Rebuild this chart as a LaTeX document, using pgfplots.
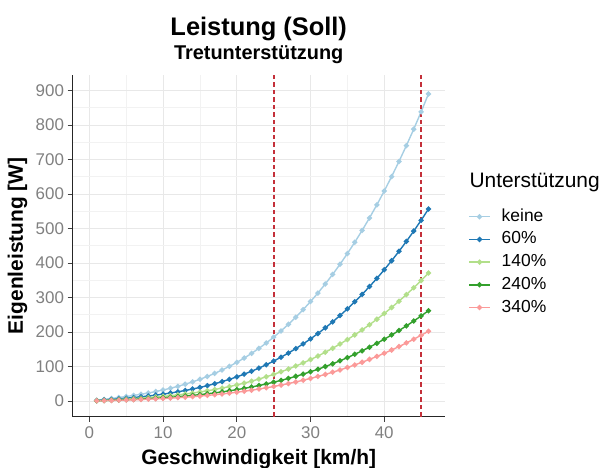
\documentclass[border=0pt]{standalone}
\usepackage{fontspec}
\setmainfont{Liberation Sans}
\usepackage{pgfplots}
\usepackage{pgfplotstable}
\pgfplotsset{compat=1.18}
\definecolor{cA}{HTML}{A6CEE3}
\definecolor{cB}{HTML}{1F78B4}
\definecolor{cC}{HTML}{B2DF8A}
\definecolor{cD}{HTML}{33A02C}
\definecolor{cE}{HTML}{FB9A99}
\definecolor{dashred}{RGB}{196,48,58}
\pgfplotstableread{
v k s60 s140 s240 s340
1 2.4 1.5 1.0 0.7 0.5
2 4.8 3.0 2.0 1.4 1.1
3 7.4 4.6 3.1 2.2 1.7
4 10.1 6.3 4.2 3.0 2.3
5 13.0 8.1 5.4 3.8 2.9
6 16.1 10.0 6.7 4.7 3.7
7 19.5 12.2 8.1 5.7 4.4
8 23.2 14.5 9.7 6.8 5.3
9 27.4 17.1 11.4 8.0 6.2
10 31.9 19.9 13.3 9.4 7.3
11 37.0 23.1 15.4 10.9 8.4
12 42.5 26.6 17.7 12.5 9.7
13 48.7 30.4 20.3 14.3 11.1
14 55.4 34.7 23.1 16.3 12.6
15 62.9 39.3 26.2 18.5 14.3
16 71.1 44.4 29.6 20.9 16.2
17 80.0 50.0 33.3 23.5 18.2
18 89.8 56.1 37.4 26.4 20.4
19 100.4 62.7 41.8 29.5 22.8
20 111.9 69.9 46.6 32.9 25.4
21 124.4 77.8 51.8 36.6 28.3
22 137.9 86.2 57.5 40.6 31.3
23 152.5 95.3 63.5 44.8 34.7
24 168.1 105.1 70.1 49.4 38.2
25 185.0 115.6 77.1 54.4 42.0
26 203.0 126.9 84.6 59.7 46.1
27 222.3 138.9 92.6 65.4 50.5
28 242.8 151.8 101.2 71.4 55.2
29 264.7 165.5 110.3 77.9 60.2
30 288.1 180.0 120.0 84.7 65.5
31 312.8 195.5 130.3 92.0 71.1
32 339.1 211.9 141.3 99.7 77.1
33 366.8 229.3 152.8 107.9 83.4
34 396.2 247.6 165.1 116.5 90.0
35 427.2 267.0 178.0 125.6 97.1
36 459.9 287.4 191.6 135.3 104.5
37 494.3 308.9 206.0 145.4 112.3
38 530.5 331.6 221.0 156.0 120.6
39 568.5 355.3 236.9 167.2 129.2
40 608.4 380.3 253.5 179.0 138.3
41 650.3 406.4 270.9 191.3 147.8
42 694.1 433.8 289.2 204.1 157.7
43 739.9 462.4 308.3 217.6 168.2
44 787.7 492.3 328.2 231.7 179.0
45 837.7 523.6 349.1 246.4 190.4
46 889.9 556.2 370.8 261.7 202.2
}\data

\begin{document}
\begin{tikzpicture}
\begin{axis}[
  at={(0,0)}, anchor=south west,
  width=372bp, height=342bp, scale only axis,
  xmin=-2.26, xmax=48.2, ymin=-45.5, ymax=945.5,
  axis lines*=left,
  axis line style={line width=1.1bp, black!85},
  xtick={0,10,20,30,40}, ytick={0,100,...,900},
  minor xtick={5,15,35}, minor ytick={50,150,...,850},
  grid=both,
  major grid style={black!9, line width=0.8bp},
  minor grid style={black!5, line width=0.5bp},
  tick align=outside, major tick length=5bp, minor tick length=0pt,
  tick style={black!75, line width=0.8bp},
  /pgf/number format/assume math mode=true,
  ticklabel style={font=\fontsize{17}{17}\selectfont, text=black!50},
  xticklabel style={inner sep=0pt, yshift=-4.5bp},
  yticklabel style={inner sep=0pt, xshift=-3.5bp},
  xlabel={Geschwindigkeit [km/h]},
  ylabel={Eigenleistung [W]},
  label style={font=\bfseries\fontsize{21}{21}\selectfont},
  xlabel style={at={(axis description cs:0.5,-0.1383)}, anchor=base},
  ylabel style={at={(axis description cs:-0.1336,0.5)}, anchor=base, rotate=0},
  every axis plot/.append style={line width=1.4bp, mark=*, mark size=1.9bp},
  legend style={at={(axis description cs:1.063,0.452)}, anchor=west,
    draw=none, fill=none, inner sep=0pt, row sep=7.7bp, column sep=0pt,
    nodes={inner sep=0pt, text height=12bp, text depth=3bp},
    font=\fontsize{17.5}{17.5}\selectfont},
  legend cell align=left,
  legend image code/.code={\draw[mark repeat=2, mark phase=2] plot coordinates {(0bp,0bp) (10.5bp,0bp) (21bp,0bp)}; \path (32bp,0bp);},
]
\addplot[color=cA, mark options={fill=cA}] table[x=v, y=k] {\data};
\addlegendentry{keine}
\addplot[color=cB, mark options={fill=cB}] table[x=v, y=s60] {\data};
\addlegendentry{60\%}
\addplot[color=cC, mark options={fill=cC}] table[x=v, y=s140] {\data};
\addlegendentry{140\%}
\addplot[color=cD, mark options={fill=cD}] table[x=v, y=s240] {\data};
\addlegendentry{240\%}
\addplot[color=cE, mark options={fill=cE}] table[x=v, y=s340] {\data};
\addlegendentry{340\%}
\addplot[forget plot, no marks, draw=dashred, line width=2bp, dash pattern=on 4.5bp off 3bp] coordinates {(25,-45.5) (25,945.5)};
\addplot[forget plot, no marks, draw=dashred, line width=2bp, dash pattern=on 4.5bp off 3bp] coordinates {(45,-45.5) (45,945.5)};
\end{axis}
\node[anchor=base west, font=\fontsize{21}{21}\selectfont] at (393.3bp,228.7bp) {Unterstützung};
\node[anchor=base, font=\bfseries\fontsize{25.5}{25.5}\selectfont] at (186bp,380.7bp) {Leistung (Soll)};
\node[anchor=base, font=\bfseries\fontsize{20}{20}\selectfont] at (186bp,356.7bp) {Tretunterstützung};
\pgfresetboundingbox
\path[use as bounding box] (-72.7bp,-51.3bp) rectangle (531.3bp,416.7bp);
\end{tikzpicture}
\end{document}
